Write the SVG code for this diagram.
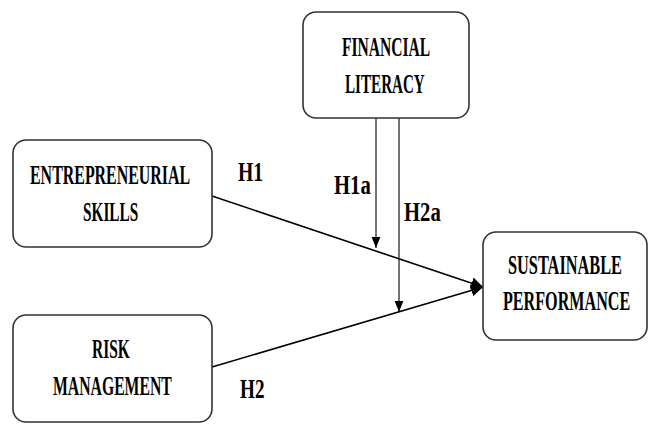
<svg xmlns="http://www.w3.org/2000/svg" width="650" height="424" viewBox="0 0 650 424">
<style>
.box{fill:#fff;stroke:#333;stroke-width:1.6}
.t{font-family:"Liberation Serif","Times New Roman",serif;font-weight:bold;font-size:27px;fill:#000}
.lbl{font-family:"Liberation Serif","Times New Roman",serif;font-weight:bold;font-size:28px;fill:#000}
.ln{stroke:#000;stroke-width:1.6;fill:none}
.vl{stroke:#000;stroke-width:1.1;fill:none}
</style>
<defs>
<marker id="ah" viewBox="0 0 10 10" refX="10" refY="5" markerWidth="12" markerHeight="12" markerUnits="userSpaceOnUse" orient="auto">
<path d="M0,0 L10,5 L0,10 z" fill="#000"/>
</marker>
<marker id="ah2" viewBox="0 0 10 10" refX="10" refY="5" markerWidth="11" markerHeight="11" markerUnits="userSpaceOnUse" orient="auto">
<path d="M0,1 L10,5 L0,9 z" fill="#000"/>
</marker>
</defs>
<rect width="650" height="424" fill="#fff"/>
<g id="connectors">
<line class="ln" x1="212" y1="196" x2="483" y2="287" marker-end="url(#ah)"/>
<line class="ln" x1="212" y1="367" x2="483" y2="287" marker-end="url(#ah)"/>
<line class="vl" x1="376" y1="118" x2="376" y2="248" marker-end="url(#ah2)"/>
<line class="vl" x1="399" y1="118" x2="399" y2="312" marker-end="url(#ah2)"/>
<text class="lbl" transform="translate(238,181) scale(0.7,1)" textLength="36" lengthAdjust="spacingAndGlyphs">H1</text>
<text class="lbl" transform="translate(334,194) scale(0.72,1)" textLength="51" lengthAdjust="spacingAndGlyphs">H1a</text>
<text class="lbl" transform="translate(404,221) scale(0.72,1)" textLength="51" lengthAdjust="spacingAndGlyphs">H2a</text>
<text class="lbl" transform="translate(240,398) scale(0.7,1)" textLength="35" lengthAdjust="spacingAndGlyphs">H2</text>
</g>
<g id="financial-literacy">
<rect class="box" x="303" y="12" width="166" height="106" rx="13"/>
<text class="t" transform="translate(342,56) scale(0.6,1)" textLength="147" lengthAdjust="spacingAndGlyphs">FINANCIAL</text>
<text class="t" transform="translate(345,93) scale(0.6,1)" textLength="133" lengthAdjust="spacingAndGlyphs">LITERACY</text>
</g>
<g id="entrepreneurial-skills">
<rect class="box" x="13" y="140" width="199" height="107" rx="13"/>
<text class="t" transform="translate(30,184) scale(0.6,1)" textLength="267" lengthAdjust="spacingAndGlyphs">ENTREPRENEURIAL</text>
<text class="t" transform="translate(83,221) scale(0.6,1)" textLength="92" lengthAdjust="spacingAndGlyphs">SKILLS</text>
</g>
<g id="risk-management">
<rect class="box" x="13" y="315" width="199" height="107" rx="13"/>
<text class="t" transform="translate(92,358) scale(0.6,1)" textLength="63" lengthAdjust="spacingAndGlyphs">RISK</text>
<text class="t" transform="translate(53,395) scale(0.6,1)" textLength="198" lengthAdjust="spacingAndGlyphs">MANAGEMENT</text>
</g>
<g id="sustainable-performance">
<rect class="box" x="483" y="232" width="164" height="108" rx="13"/>
<text class="t" transform="translate(508,274) scale(0.6,1)" textLength="190" lengthAdjust="spacingAndGlyphs">SUSTAINABLE</text>
<text class="t" transform="translate(503,310) scale(0.6,1)" textLength="212" lengthAdjust="spacingAndGlyphs">PERFORMANCE</text>
</g>
</svg>
